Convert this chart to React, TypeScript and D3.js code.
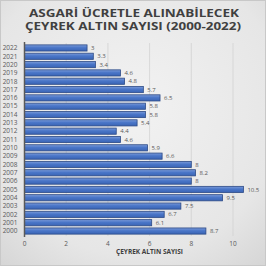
import React from "react";
import * as d3 from "d3";

const years = ["2022","2021","2020","2019","2018","2017","2016","2015","2014","2013","2012","2011","2010","2009","2008","2007","2006","2005","2004","2003","2002","2001","2000"];
const values = [3,3.3,3.4,4.6,4.8,5.7,6.5,5.8,5.8,5.4,4.4,4.6,5.9,6.6,8,8.2,8,10.5,9.5,7.5,6.7,6.1,8.7];
const xTicks = [0,2,4,6,8,10];
const titleLines = ["ASGARİ ÜCRETLE ALINABİLECEK", "ÇEYREK ALTIN SAYISI (2000-2022)"];
const axisTitle = "ÇEYREK ALTIN SAYISI";

export default function App() {
  const W = 266, H = 266;
  const x = d3.scaleLinear().domain([0, 11]).range([24.5, 24.5 + 11 * 20.85]);
  const y = d3.scaleBand<string>().domain(years).range([43.8, 235.2]).paddingInner(0.26).paddingOuter(0.13);
  const font = "'Open Sans', 'DejaVu Sans', sans-serif";
  const titleSpans = [[29, 239], [25, 241]];
  return (
    <svg width={W} height={H} style={{ position: "absolute", left: 0, top: 0 }} fontFamily={font}>
      <defs>
        <radialGradient id="bg" cx="0.5" cy="0.4" r="0.8">
          <stop offset="0" stopColor="#f2f2f2" />
          <stop offset="0.7" stopColor="#e6e6e6" />
          <stop offset="1" stopColor="#d4d4d4" />
        </radialGradient>
        <linearGradient id="bar" x1="0" y1="0" x2="0" y2="1">
          <stop offset="0" stopColor="#7b9bd9" />
          <stop offset="0.45" stopColor="#4a76c8" />
          <stop offset="1" stopColor="#3a64b4" />
        </linearGradient>
      </defs>
      <rect x={0} y={0} width={W} height={H} fill="url(#bg)" />
      <rect x={0.5} y={0.5} width={W - 1} height={H - 1} fill="none" stroke="#c8c8c8" />
      {titleLines.map((t, i) => (
        <text key={i} x={titleSpans[i][0]} y={16.8 + i * 13} fontSize={10} fontWeight={700} fill="#404040"
          textLength={titleSpans[i][1] - titleSpans[i][0]} lengthAdjust="spacingAndGlyphs">{t}</text>
      ))}
      {xTicks.filter(t => t > 0).map(t => (
        <line key={t} x1={x(t)} x2={x(t)} y1={43} y2={236} stroke="#d2d2d2" strokeWidth={0.8} />
      ))}
      {years.map((yr, i) => {
        const v = values[i];
        const y0 = y(yr)!;
        const bh = y.bandwidth();
        return (
          <g key={yr}>
            <rect x={x(0)} y={y0} width={x(v) - x(0)} height={bh} fill="url(#bar)" stroke="#2c4a86" strokeWidth={0.8} />
            <text x={x(v) + 4} y={y0 + bh / 2} dy="0.35em" fontSize={6} fill="#595959">{String(v)}</text>
            <text x={17.5} y={y0 + bh / 2} dy="0.35em" fontSize={6.5} fill="#595959" textAnchor="end">{yr}</text>
          </g>
        );
      })}
      <line x1={x(0)} x2={x(0)} y1={42} y2={237} stroke="#595959" strokeWidth={1.5} />
      {xTicks.map(t => (
        <text key={t} x={x(t)} y={245.5} fontSize={6.5} fill="#595959" textAnchor="middle">{t}</text>
      ))}
      <text x={149.5} y={254} textAnchor="middle" fontSize={6.5} fontWeight={700} fill="#404040">{axisTitle}</text>
    </svg>
  );
}
